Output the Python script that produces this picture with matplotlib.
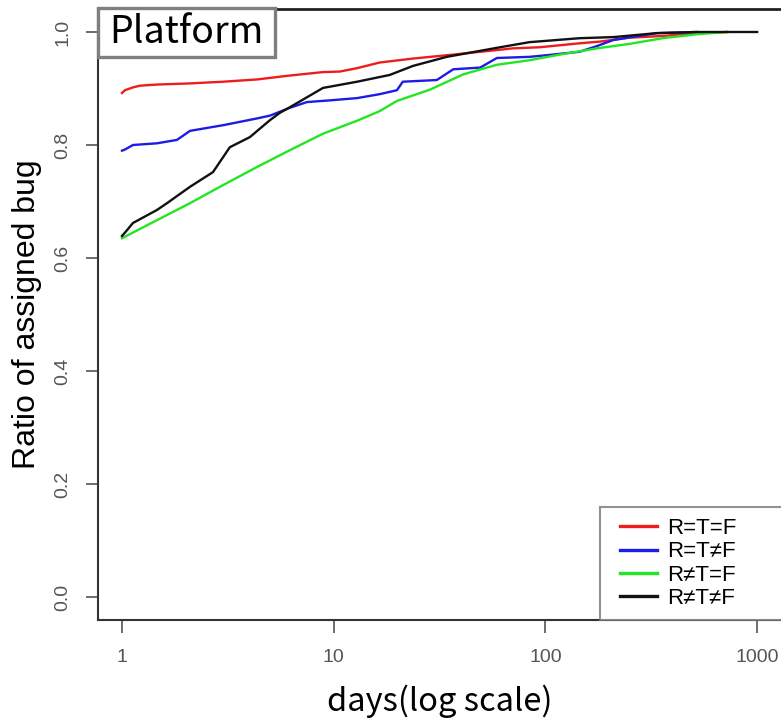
import matplotlib
matplotlib.use("Agg")
import matplotlib.pyplot as plt
from matplotlib.patches import Rectangle
from matplotlib.lines import Line2D
from matplotlib.legend_handler import HandlerLine2D

# ---- data ----
red_days = [1.0, 1.033, 1.127, 1.216, 1.463, 2.095, 3.0, 4.34, 6.22, 8.9, 10.7, 12.9, 16.5,
            23.7, 36.7, 49.2, 59, 70, 94, 145, 181, 250, 358, 518, 722]
red_ratio = [0.892, 0.897, 0.902, 0.905, 0.907, 0.909, 0.912, 0.916, 0.923, 0.929, 0.930, 0.936, 0.946,
             0.953, 0.960, 0.965, 0.968, 0.971, 0.973, 0.980, 0.983, 0.990, 0.993, 0.998, 1.0]

blue_days = [1.0, 1.033, 1.127, 1.463, 1.818, 2.095, 2.69, 3.0, 4.34, 5.0, 6.22, 7.48, 9.6, 12.9,
             16.5, 19.9, 21.2, 30.7, 36.7, 49.2, 59, 84, 102, 145, 175, 210, 336, 518]
blue_ratio = [0.790, 0.792, 0.800, 0.803, 0.809, 0.825, 0.832, 0.835, 0.847, 0.852, 0.866, 0.876, 0.879, 0.883,
              0.890, 0.897, 0.912, 0.915, 0.934, 0.937, 0.954, 0.956, 0.959, 0.965, 0.975, 0.986, 0.998, 1.0]

green_days = [1.0, 1.463, 2.095, 3.0, 4.34, 6.22, 8.9, 12.9, 16.5, 19.9, 28.5, 40.9, 59, 84, 117,
              175, 250, 358, 518, 722]
green_ratio = [0.635, 0.667, 0.697, 0.729, 0.761, 0.791, 0.820, 0.843, 0.860, 0.878, 0.898, 0.925, 0.942, 0.950, 0.960,
               0.971, 0.979, 0.989, 0.996, 1.0]

black_days = [1.0, 1.033, 1.127, 1.463, 1.631, 2.095, 2.69, 3.23, 4.02, 5.0, 5.57, 6.22, 8.9, 12.9,
              18.4, 23.7, 34.2, 59, 84, 145, 210, 336, 518, 1000]
black_ratio = [0.639, 0.645, 0.662, 0.685, 0.697, 0.726, 0.752, 0.796, 0.814, 0.844, 0.857, 0.867, 0.901, 0.912,
               0.924, 0.940, 0.956, 0.972, 0.982, 0.989, 0.991, 0.998, 1.0, 1.0]

series_labels = ["R=T=F", "R=T\u2260F", "R\u2260T=F", "R\u2260T\u2260F"]
series_colors = ["#ee1c1c", "#1c1ce6", "#22e622", "#111111"]
x_ticks = [1, 10, 100, 1000]
x_ticklabels = ["1", "10", "100", "1000"]
y_ticks = [0.0, 0.2, 0.4, 0.6, 0.8, 1.0]
y_ticklabels = ["0.0", "0.2", "0.4", "0.6", "0.8", "1.0"]

W, H = 781, 719
AX_L, AX_R = 98, 784
fig = plt.figure(figsize=(W / 100, H / 100), dpi=100)
ax = fig.add_axes([AX_L / W, 1 - 620 / H, (AX_R - AX_L) / W, (620 - 9) / H])

xs = [red_days, blue_days, green_days, black_days]
ys = [red_ratio, blue_ratio, green_ratio, black_ratio]
for x, y, c, lab in zip(xs, ys, series_colors, series_labels):
    ax.plot(x, y, color=c, lw=1.7, label=lab)

ax.set_xscale("log")
ax.set_xlim(10 ** ((AX_L - 122) / 211.7), 10 ** ((AX_R - 122) / 211.7))
ax.set_ylim(-0.0407, 1.0407)
ax.set_xticks(x_ticks)
ax.set_xticklabels(x_ticklabels)
ax.minorticks_off()
ax.set_yticks(y_ticks)
ax.set_yticklabels(y_ticklabels, rotation=90, va="center")

tick_font = ["Liberation Sans Narrow", "Liberation Sans", "DejaVu Sans"]
for lbl in ax.get_xticklabels() + ax.get_yticklabels():
    lbl.set_family(tick_font)
    lbl.set_fontsize(14)
    lbl.set_color("#555555")
ax.tick_params(axis="both", direction="out", length=9, width=1.2, color="#555555")
ax.tick_params(axis="x", pad=12)
ax.tick_params(axis="y", pad=10)

for s in ax.spines.values():
    s.set_color("#333333")
    s.set_linewidth(1.5)
ax.spines["top"].set_color("#222222")
ax.spines["top"].set_linewidth(2.0)

ax.set_ylabel("Ratio of assigned bug", fontsize=23, family=["Liberation Sans", "DejaVu Sans"],
              labelpad=9)
ax.set_xlabel("days(log scale)", fontsize=23.5,
              family=["Noto Sans CJK JP", "DejaVu Sans"], labelpad=5)
ax.xaxis.set_label_coords((440 - AX_L) / (AX_R - AX_L), -0.105)

# Title box "Platform"
AXW = AX_R - AX_L
bx0, bx1 = 0.0, (275 - AX_L) / AXW
by0, by1 = (620 - 57) / 611, (620 - 8) / 611
ax.add_patch(Rectangle((bx0, by0), bx1 - bx0, by1 - by0, transform=ax.transAxes,
                       facecolor="white", edgecolor="#7f7f7f", lw=2.4, clip_on=False, zorder=5))
ax.text((bx0 + bx1) / 2, (by0 + by1) / 2, "Platform", transform=ax.transAxes,
        ha="center", va="center", fontsize=27, family=["Noto Sans CJK JP", "DejaVu Sans"],
        color="black", zorder=6)

leg = ax.legend(loc="lower left", bbox_to_anchor=((600 - AX_L) / AXW, 0.0, 0.4, (620 - 502) / 611),
                mode="expand", frameon=True, fancybox=False, borderaxespad=0,
                handlelength=2.07, handletextpad=0.45, labelspacing=0.1, borderpad=0.5,
                handler_map={Line2D: HandlerLine2D(xpad=0.4)},
                prop={"family": ["Liberation Sans", "DejaVu Sans"], "size": 16})
leg.get_frame().set_edgecolor("#777777")
leg.get_frame().set_linewidth(1.5)
for h in leg.get_lines():
    h.set_linewidth(2.4)

fig.savefig("out.png", dpi=100)
